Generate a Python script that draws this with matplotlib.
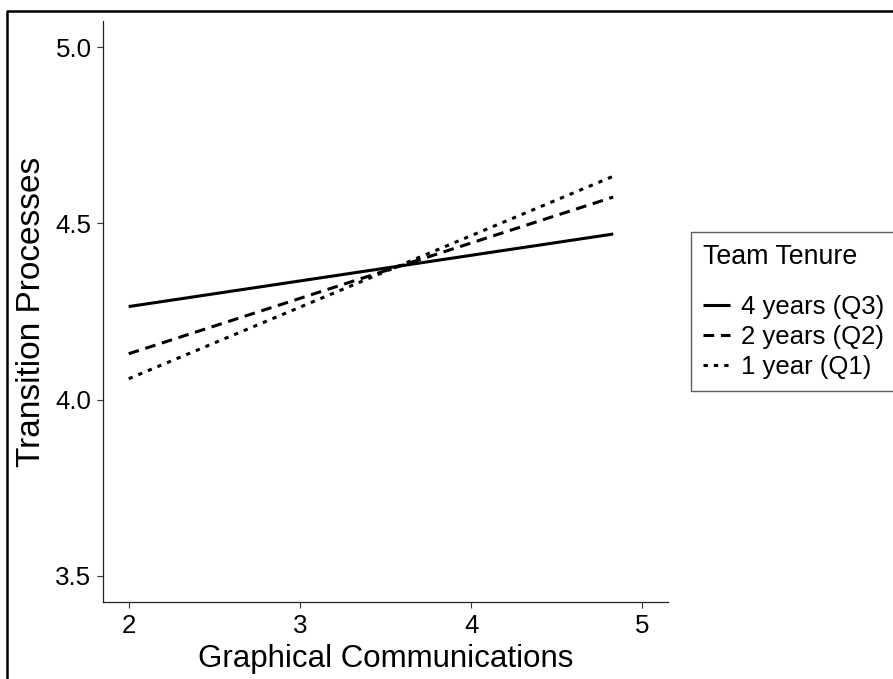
import matplotlib
matplotlib.use("Agg")
import matplotlib.pyplot as plt
from matplotlib.lines import Line2D

plt.rcParams['font.family'] = ['Liberation Sans', 'DejaVu Sans']

# simple slopes, endpoints
x_vals = [2.0, 4.83]
q3_vals = [4.264, 4.470]   # 4 years
q2_vals = [4.130, 4.575]   # 2 years
q1_vals = [4.059, 4.634]   # 1 year
labels = ['4 years (Q3)', '2 years (Q2)', '1 year (Q1)']
x_ticks = [2, 3, 4, 5]
y_ticks = [3.5, 4.0, 4.5, 5.0]

fig = plt.figure(figsize=(8.93, 6.79), dpi=100)
ax = fig.add_axes([103 / 893, 1 - 602 / 679, 565 / 893, 581 / 679])

ax.plot(x_vals, q3_vals, color='black', lw=2.2, solid_capstyle='butt', label=labels[0])
ax.plot(x_vals, q2_vals, color='black', lw=2.2, dashes=(3.5, 2.2), dash_capstyle='butt', label=labels[1])
ax.plot(x_vals, q1_vals, color='black', lw=2.2, dashes=(1.4, 2.0), dash_capstyle='butt', label=labels[2])

ax.set_xlim(1.85, 5.15)
ax.set_ylim(3.425, 5.075)
ax.set_xticks(x_ticks)
ax.set_xticklabels([str(t) for t in x_ticks])
ax.set_yticks(y_ticks)
ax.set_yticklabels(['%.1f' % t for t in y_ticks])

for s in ['top', 'right']:
    ax.spines[s].set_visible(False)
for s in ['left', 'bottom']:
    ax.spines[s].set_linewidth(0.9)
    ax.spines[s].set_color('#222222')
ax.tick_params(axis='both', labelsize=18.6, length=4.3, width=0.8, color='#333333',
               labelcolor='black', pad=4)

ax.set_xlabel('Graphical Communications', fontsize=22.5, labelpad=5)
ax.set_ylabel('Transition Processes', fontsize=24, labelpad=6)

leg = ax.legend(title='Team Tenure', loc='center left',
                bbox_to_anchor=(691 / 893, 1 - 311.5 / 679),
                bbox_transform=fig.transFigure,
                fontsize=18.5, title_fontsize=19.3, alignment='left',
                frameon=True, fancybox=False, edgecolor='#333333',
                borderpad=0.45, handlelength=1.05, handletextpad=0.45,
                labelspacing=0.24, borderaxespad=0)
leg.get_frame().set_linewidth(1.0)
# ggplot leaves a wider gap under the legend title
leg._legend_box.sep = 18

# outer frame of the exported image (only top and left edges visible)
fig.add_artist(Line2D([7 / 893, 7 / 893, 1.0], [0.0, 1 - 11 / 679, 1 - 11 / 679],
                      transform=fig.transFigure, color='black', lw=1.8))

fig.savefig('out.png', dpi=100)
